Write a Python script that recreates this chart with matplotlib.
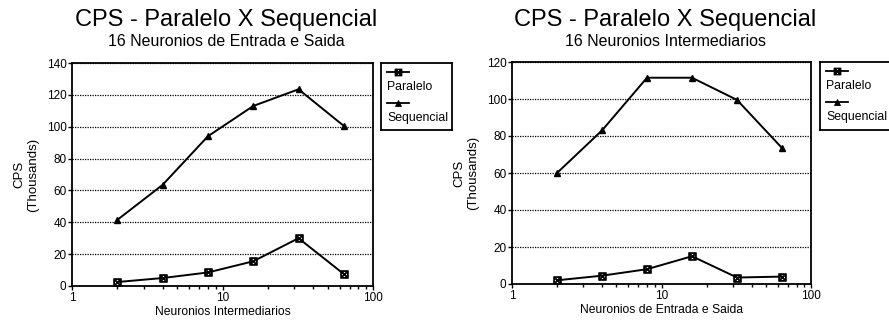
import matplotlib
matplotlib.use("Agg")
import matplotlib.pyplot as plt
from matplotlib.lines import Line2D
from matplotlib.ticker import LogLocator, NullFormatter, FixedLocator

plt.rcParams['font.family'] = ['Liberation Sans', 'DejaVu Sans']

W, H = 889, 323

x_vals = [2, 4, 8, 16, 32, 64]

# Left chart: 16 Neuronios de Entrada e Saida
left_paralelo = [2.5, 5, 8.5, 15.5, 30, 7.5]
left_sequencial = [41.5, 63.5, 94, 113, 123.5, 100.5]

# Right chart: 16 Neuronios Intermediarios
right_paralelo = [2, 4.5, 8, 15, 3.5, 4]
right_sequencial = [60, 83, 111.5, 111.5, 99.5, 73.5]

titles = ["CPS - Paralelo X Sequencial", "CPS - Paralelo X Sequencial"]
subtitles = ["16 Neuronios de Entrada e Saida", "16 Neuronios Intermediarios"]
xlabels = ["Neuronios Intermediarios", "Neuronios de Entrada e Saida"]
ymaxes = [140, 120]
series_names = ["Paralelo", "Sequencial"]

fig = plt.figure(figsize=(W / 100, H / 100), dpi=100)
fig.patch.set_facecolor('white')


def px_axes(x0, y0, x1, y1):
    return fig.add_axes([x0 / W, 1 - y1 / H, (x1 - x0) / W, (y1 - y0) / H])


panels = [
    dict(box=(72, 63, 373, 286), leg=(381, 63, 452, 130),
         par=left_paralelo, seq=left_sequencial),
    dict(box=(512, 62, 811, 284), leg=(820, 62, 891, 130),
         par=right_paralelo, seq=right_sequencial),
]

par_marker = r'$\boxtimes$'

for i, p in enumerate(panels):
    ax = px_axes(*p['box'])
    ax.plot(x_vals, p['par'], color='black', lw=1.4, marker=par_marker, ms=5.5,
            mew=0.6, label=series_names[0])
    ax.plot(x_vals, p['seq'], color='black', lw=1.4, marker='^', ms=4.5,
            mfc='black', label=series_names[1])
    ax.set_xscale('log')
    ax.set_xlim(1, 100)
    ax.set_ylim(0, ymaxes[i])
    ax.set_yticks(list(range(0, ymaxes[i] + 1, 20)))
    ax.yaxis.grid(True, color='black', linestyle=(0, (1, 1)), lw=0.9)
    ax.xaxis.set_major_locator(FixedLocator([1, 10, 100]))
    ax.set_xticklabels(['1', '10', '100'])
    ax.xaxis.set_minor_locator(LogLocator(base=10, subs=range(2, 10)))
    ax.xaxis.set_minor_formatter(NullFormatter())
    ax.tick_params(axis='x', which='major', direction='out', length=3, width=1,
                   labelsize=8.5, pad=1)
    ax.tick_params(axis='x', which='minor', direction='out', length=2, width=1)
    ax.tick_params(axis='y', direction='out', length=3, width=1, labelsize=8.5, pad=1)
    for s in ax.spines.values():
        s.set_linewidth(1.3)
    ax.set_xlabel(xlabels[i], fontsize=8.7, labelpad=2)
    ax.set_ylabel("CPS\n(Thousands)", fontsize=9.5, labelpad=5, linespacing=1.3)

    cx = (p['box'][0] + p['box'][2]) / 2 + 4
    fig.text(cx / W, 1 - 26 / H, titles[i], ha='center', va='baseline', fontsize=17)
    fig.text(cx / W, 1 - 41 / H, subtitles[i], ha='center', va='center', fontsize=11.5)

    # legend box (handle above label)
    lx0, ly0, lx1, ly1 = p['leg']
    lax = px_axes(lx0, ly0, lx1, ly1)
    lax.set_xlim(0, lx1 - lx0)
    lax.set_ylim(ly1 - ly0, 0)
    lax.set_xticks([])
    lax.set_yticks([])
    for s in lax.spines.values():
        s.set_linewidth(1.3)
    markers = [(par_marker, 5, 'black'), ('^', 4, 'black')]
    for k, name in enumerate(series_names):
        yy = 9 + k * 31
        lax.add_line(Line2D([6, 28], [yy, yy], color='black', lw=1.3))
        lax.plot([17], [yy], color='black', marker=markers[k][0], ms=markers[k][1],
                 mfc=markers[k][2], mew=0.6)
        lax.text(6, yy + 15, name, fontsize=8.8, va='center', ha='left')

fig.savefig('out.png', dpi=100, facecolor='white')
